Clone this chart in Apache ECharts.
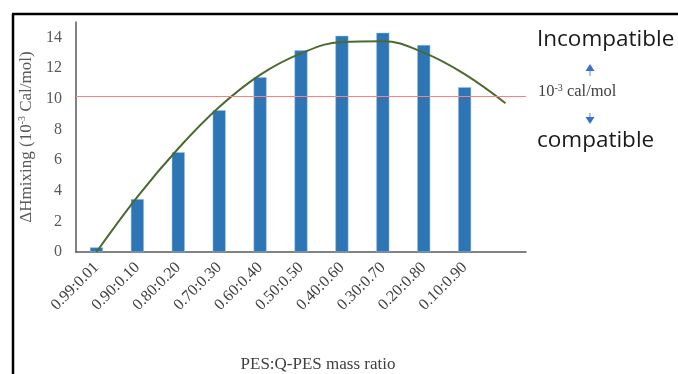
<!DOCTYPE html>
<html lang="en">
<head>
    <meta charset="UTF-8">
    <title>PES:Q-PES</title>
    <script src="https://cdn.jsdelivr.net/npm/echarts@6/dist/echarts.min.js"></script>
    <style>
        *{ margin: 0; padding: 0; }
        body{ background-color: #fff; overflow: hidden; }
        #main{ width: 678px; height: 374px; }
    </style>
</head>
<body>
<div id="main"></div>
<script>
    // ratios (the last slot is left empty, the trend line runs into it)
    var categories = ['0.99:0.01','0.90:0.10','0.80:0.20','0.70:0.30','0.60:0.40','0.50:0.50','0.40:0.60','0.30:0.70','0.20:0.80','0.10:0.90',''];
    var hmixing = [0.3, 3.45, 6.5, 9.25, 11.4, 13.15, 14.1, 14.3, 13.5, 10.75];
    // polynomial trendline at each category
    var trend = [0.0, 3.6, 6.75, 9.45, 11.55, 12.95, 13.7, 13.75, 13.0, 11.6, 9.7];
    var threshold = 10.15;
    var yTicks = [0, 2, 4, 6, 8, 10, 12, 14];

    var serif = '"Liberation Serif", "Times New Roman", serif';
    var sans = '"Open Sans", "Noto Sans", sans-serif';
    var myChart = echarts.init(document.getElementById('main'));

    var option = {
        animation: false,
        grid: { left: 76, right: 152, top: 22, bottom: 122, containLabel: false, outerBoundsMode: 'none' },
        xAxis: {
            type: 'category',
            data: categories,
            axisTick: { show: false },
            axisLine: { lineStyle: { color: '#595959', width: 1.5 } },
            axisLabel: {
                interval: 0,
                rotate: 45,
                margin: 13,
                color: '#404040',
                fontSize: 16,
                fontFamily: serif
            },
            name: 'PES:Q-PES mass ratio',
            nameLocation: 'middle',
            nameGap: 104,
            nameTextStyle: { color: '#404040', fontSize: 17, fontFamily: serif, padding: [0, 0, 0, 34] }
        },
        yAxis: {
            type: 'value',
            min: 0,
            max: 15,
            interval: 2,
            splitLine: { show: false },
            axisTick: { show: false },
            axisLine: { show: true, lineStyle: { color: '#595959', width: 1.5 } },
            axisLabel: {
                color: '#595959',
                fontSize: 16,
                fontFamily: serif,
                margin: 14,
                formatter: function (v) { return yTicks.indexOf(v) >= 0 ? String(v) : ''; }
            },
            name: '{a|ΔHmixing (10}{s|-3}{a| Cal/mol)}',
            nameLocation: 'middle',
            nameGap: 35,
            nameTextStyle: {
                rich: {
                    a: { color: '#595959', fontSize: 17, fontFamily: serif },
                    s: { color: '#595959', fontSize: 10, fontFamily: serif, verticalAlign: 'top', padding: [0, 0, 9, 0] }
                }
            }
        },
        series: [
            {
                name: 'ΔHmixing',
                type: 'bar',
                barWidth: 13,
                data: hmixing,
                itemStyle: { color: '#2E75B6', borderColor: '#9DC3E6', borderWidth: 0.5 }
            },
            {
                name: 'trend',
                type: 'line',
                smooth: 0.4,
                showSymbol: false,
                data: trend,
                color: '#4B6A2E',
                lineStyle: { color: '#4B6A2E', width: 2 },
                z: 3,
                markLine: {
                    silent: true,
                    symbol: ['none', 'none'],
                    label: { show: false },
                    itemStyle: { color: '#FF8080' },
                    lineStyle: { color: '#FF8080', width: 1.2, type: 'solid', opacity: 1 },
                    data: [{ yAxis: threshold }]
                }
            }
        ],
        graphic: [
            { type: 'line', shape: { x1: 12, y1: 14, x2: 678, y2: 14 }, style: { stroke: '#000', lineWidth: 2.5 } },
            { type: 'line', shape: { x1: 13, y1: 14, x2: 13, y2: 374 }, style: { stroke: '#000', lineWidth: 2.5 } },
            { type: 'text', left: 537, top: 28, style: { text: 'Incompatible', fill: '#1a1a1a', font: '22.5px ' + sans } },
            { type: 'text', left: 537, top: 129, style: { text: 'compatible', fill: '#1a1a1a', font: '22.5px ' + sans } },
            { type: 'text', left: 538, top: 83, style: {
                text: '{a|10}{s|-3}{a| cal/mol}',
                rich: {
                    a: { fill: '#404040', fontSize: 16.5, fontFamily: serif },
                    s: { fill: '#404040', fontSize: 10, fontFamily: serif, verticalAlign: 'top', padding: [0, 0, 8, 0] }
                }
            } },
            { type: 'line', shape: { x1: 590, y1: 69, x2: 590, y2: 76 }, style: { stroke: '#8DB4E8', lineWidth: 1.5 } },
            { type: 'polygon', shape: { points: [[585.5, 71], [594.5, 71], [590, 64]] }, style: { fill: '#3A6FD0' } },
            { type: 'line', shape: { x1: 590, y1: 113, x2: 590, y2: 119 }, style: { stroke: '#8DB4E8', lineWidth: 1.5 } },
            { type: 'polygon', shape: { points: [[585.5, 117], [594.5, 117], [590, 124]] }, style: { fill: '#3A6FD0' } }
        ]
    };
    myChart.setOption(option);
    window.onresize = myChart.resize;
</script>
</body>
</html>
